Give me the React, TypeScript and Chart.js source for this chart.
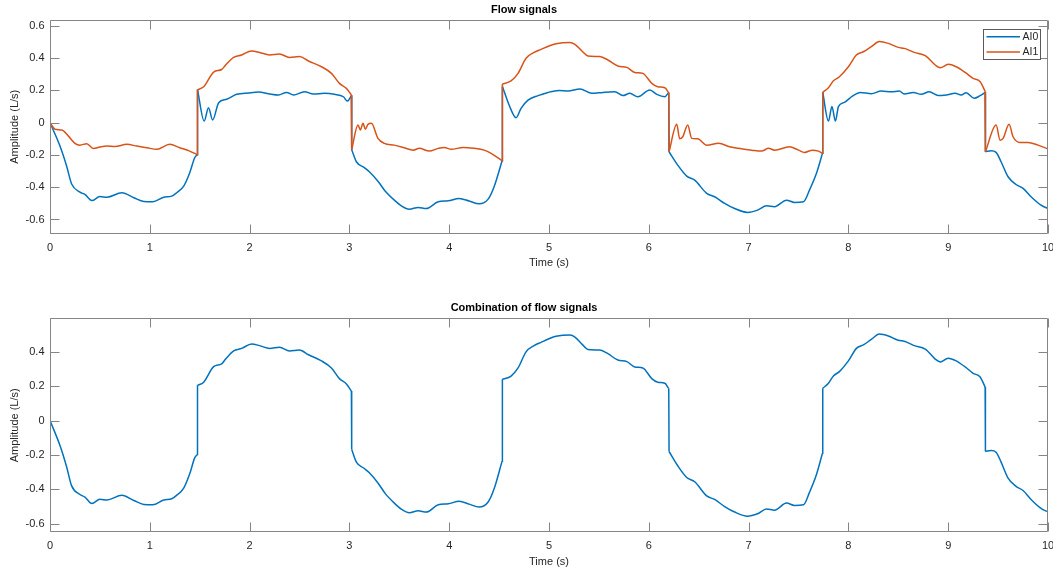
import React, { useEffect, useRef } from "react";
import { Chart, registerables } from "chart.js";

Chart.register(...registerables);

// ---------------- data ----------------
const AI0_TIME = [
  0, 0.1, 0.167, 0.217, 0.3, 0.35, 0.42, 0.5, 0.57, 0.72,
  0.84, 0.94, 1.03, 1.14, 1.22, 1.27, 1.34, 1.4, 1.45, 1.475,
  1.478, 1.545, 1.588, 1.63, 1.69, 1.77, 1.87, 1.99, 2.09, 2.19,
  2.29, 2.37, 2.44, 2.55, 2.64, 2.75, 2.85, 2.94, 2.98, 3.02,
  3.023, 3.07, 3.15, 3.2, 3.29, 3.36, 3.45, 3.52, 3.6, 3.69,
  3.77, 3.89, 3.99, 4.1, 4.2, 4.3, 4.39, 4.45, 4.53, 4.533,
  4.6, 4.67, 4.72, 4.79, 4.89, 4.99, 5.1, 5.19, 5.31, 5.43,
  5.54, 5.66, 5.74, 5.81, 5.89, 6.01, 6.08, 6.16, 6.2, 6.203,
  6.29, 6.38, 6.46, 6.58, 6.66, 6.76, 6.86, 6.99, 7.09, 7.18,
  7.26, 7.38, 7.46, 7.55, 7.61, 7.68, 7.74, 7.743, 7.8, 7.835,
  7.87, 7.9, 7.96, 8.04, 8.12, 8.23, 8.33, 8.43, 8.51, 8.56,
  8.65, 8.73, 8.81, 8.9, 8.98, 9.07, 9.13, 9.18, 9.26, 9.32,
  9.37, 9.373, 9.43, 9.48, 9.53, 9.6, 9.68, 9.75, 9.83, 9.93,
  10,
];
const AI0_VALUES = [
  0, -0.145, -0.27, -0.38, -0.43, -0.445, -0.483, -0.458, -0.462, -0.435,
  -0.465, -0.488, -0.49, -0.462, -0.455, -0.434, -0.393, -0.31, -0.217, -0.198,
  0.205, 0.01, 0.093, 0.017, 0.124, 0.145, 0.176, 0.185, 0.19, 0.18,
  0.172, 0.188, 0.172, 0.192, 0.178, 0.182, 0.176, 0.161, 0.134, 0.168,
  -0.168, -0.242, -0.279, -0.304, -0.366, -0.425, -0.48, -0.515, -0.536, -0.525,
  -0.532, -0.49, -0.484, -0.47, -0.486, -0.503, -0.474, -0.397, -0.236, 0.225,
  0.11, 0.031, 0.089, 0.14, 0.168, 0.188, 0.2, 0.196, 0.209, 0.182,
  0.188, 0.192, 0.168, 0.182, 0.161, 0.203, 0.176, 0.161, 0.188, -0.18,
  -0.263, -0.331, -0.356, -0.438, -0.459, -0.5, -0.532, -0.556, -0.542, -0.515,
  -0.521, -0.48, -0.494, -0.49, -0.418, -0.314, -0.19, 0.188, 0.01, 0.1,
  0.01, 0.1, 0.126, 0.165, 0.188, 0.18, 0.196, 0.192, 0.196, 0.178,
  0.188, 0.176, 0.192, 0.168, 0.172, 0.182, 0.172, 0.186, 0.151, 0.168,
  0.188, -0.18, -0.174, -0.184, -0.242, -0.335, -0.383, -0.407, -0.459, -0.511,
  -0.532,
];

const AI1_TIME = [
  0, 0.05, 0.118, 0.185, 0.25, 0.3, 0.368, 0.434, 0.5, 0.57,
  0.65, 0.77, 0.87, 0.97, 1.07, 1.2, 1.3, 1.4, 1.475, 1.478,
  1.54, 1.64, 1.72, 1.76, 1.84, 1.92, 2.02, 2.1, 2.2, 2.3,
  2.4, 2.5, 2.59, 2.72, 2.82, 2.9, 2.97, 3.02, 3.023, 3.086,
  3.11, 3.136, 3.16, 3.186, 3.22, 3.286, 3.35, 3.45, 3.55, 3.64,
  3.7, 3.8, 3.89, 3.95, 4.02, 4.14, 4.25, 4.35, 4.42, 4.53,
  4.533, 4.62, 4.69, 4.77, 4.85, 4.92, 5.0, 5.07, 5.21, 5.26,
  5.33, 5.39, 5.51, 5.59, 5.69, 5.78, 5.86, 5.94, 6.03, 6.09,
  6.16, 6.2, 6.203, 6.28, 6.31, 6.34, 6.39, 6.43, 6.49, 6.58,
  6.7, 6.81, 6.89, 7.03, 7.13, 7.2, 7.26, 7.41, 7.5, 7.56,
  7.64, 7.7, 7.74, 7.743, 7.8, 7.85, 7.91, 8.0, 8.08, 8.15,
  8.23, 8.31, 8.4, 8.5, 8.56, 8.66, 8.77, 8.87, 8.92, 9.0,
  9.08, 9.17, 9.25, 9.32, 9.37, 9.373, 9.48, 9.52, 9.55, 9.61,
  9.65, 9.72, 9.8, 9.9, 10,
];
const AI1_VALUES = [
  0, -0.04, -0.045, -0.083, -0.128, -0.139, -0.13, -0.16, -0.151, -0.145,
  -0.148, -0.134, -0.145, -0.155, -0.165, -0.134, -0.155, -0.176, -0.198, 0.205,
  0.223, 0.314, 0.33, 0.358, 0.405, 0.42, 0.445, 0.436, 0.42, 0.426,
  0.405, 0.41, 0.383, 0.347, 0.306, 0.244, 0.213, 0.172, -0.168, -0.014,
  -0.045, -0.004, -0.04, -0.01, -0.004, -0.097, -0.128, -0.139, -0.155, -0.17,
  -0.159, -0.176, -0.159, -0.153, -0.165, -0.153, -0.159, -0.17, -0.19, -0.236,
  0.24, 0.259, 0.306, 0.4, 0.436, 0.455, 0.476, 0.49, 0.498, 0.486,
  0.445, 0.414, 0.41, 0.389, 0.352, 0.343, 0.312, 0.306, 0.244, 0.223,
  0.217, 0.186, -0.18, -0.01, -0.1, -0.087, -0.014, -0.097, -0.1, -0.139,
  -0.128, -0.149, -0.159, -0.17, -0.176, -0.159, -0.17, -0.149, -0.17, -0.184,
  -0.17, -0.176, -0.19, 0.188, 0.217, 0.26, 0.285, 0.347, 0.42, 0.44,
  0.472, 0.503, 0.492, 0.467, 0.461, 0.436, 0.416, 0.358, 0.341, 0.362,
  0.347, 0.312, 0.275, 0.254, 0.195, -0.18, -0.014, -0.108, -0.097, -0.01,
  -0.087, -0.122, -0.122, -0.139, -0.163,
];

const COMBO_TIME = [
  0, 0.1, 0.167, 0.217, 0.3, 0.35, 0.42, 0.5, 0.57, 0.72,
  0.84, 0.94, 1.03, 1.14, 1.22, 1.27, 1.34, 1.4, 1.45, 1.475,
  1.478, 1.54, 1.64, 1.72, 1.76, 1.84, 1.92, 2.02, 2.1, 2.2,
  2.3, 2.4, 2.5, 2.59, 2.72, 2.82, 2.9, 2.97, 3.02, 3.023,
  3.07, 3.15, 3.2, 3.29, 3.36, 3.45, 3.52, 3.6, 3.69, 3.77,
  3.89, 3.99, 4.1, 4.2, 4.3, 4.39, 4.45, 4.53, 4.533, 4.62,
  4.69, 4.77, 4.85, 4.92, 5.0, 5.07, 5.21, 5.26, 5.33, 5.39,
  5.51, 5.59, 5.69, 5.78, 5.86, 5.94, 6.03, 6.09, 6.16, 6.2,
  6.203, 6.29, 6.38, 6.46, 6.58, 6.66, 6.76, 6.86, 6.99, 7.09,
  7.18, 7.26, 7.38, 7.46, 7.55, 7.61, 7.68, 7.74, 7.743, 7.8,
  7.85, 7.91, 8.0, 8.08, 8.15, 8.23, 8.31, 8.4, 8.5, 8.56,
  8.66, 8.77, 8.87, 8.92, 9.0, 9.08, 9.17, 9.25, 9.32, 9.37,
  9.373, 9.43, 9.48, 9.53, 9.6, 9.68, 9.75, 9.83, 9.93, 10,
];
const COMBO_VALUES = [
  0, -0.145, -0.27, -0.38, -0.43, -0.445, -0.483, -0.458, -0.462, -0.435,
  -0.465, -0.488, -0.49, -0.462, -0.455, -0.434, -0.393, -0.31, -0.217, -0.198,
  0.205, 0.223, 0.314, 0.33, 0.358, 0.405, 0.42, 0.445, 0.436, 0.42,
  0.426, 0.405, 0.41, 0.383, 0.347, 0.306, 0.244, 0.213, 0.172, -0.168,
  -0.242, -0.279, -0.304, -0.366, -0.425, -0.48, -0.515, -0.536, -0.525, -0.532,
  -0.49, -0.484, -0.47, -0.486, -0.503, -0.474, -0.397, -0.236, 0.24, 0.259,
  0.306, 0.4, 0.436, 0.455, 0.476, 0.49, 0.498, 0.486, 0.445, 0.414,
  0.41, 0.389, 0.352, 0.343, 0.312, 0.306, 0.244, 0.223, 0.217, 0.186,
  -0.18, -0.263, -0.331, -0.356, -0.438, -0.459, -0.5, -0.532, -0.556, -0.542,
  -0.515, -0.521, -0.48, -0.494, -0.49, -0.418, -0.314, -0.19, 0.188, 0.217,
  0.26, 0.285, 0.347, 0.42, 0.44, 0.472, 0.503, 0.492, 0.467, 0.461,
  0.436, 0.416, 0.358, 0.341, 0.362, 0.347, 0.312, 0.275, 0.254, 0.195,
  -0.18, -0.174, -0.184, -0.242, -0.335, -0.383, -0.407, -0.459, -0.511, -0.532,
];

const SERIES_LABELS = ["AI0", "AI1"];
const TITLES = ["Flow signals", "Combination of flow signals"];
const X_LABEL = "Time (s)";
const Y_LABEL = "Amplitude (L/s)";
const X_RANGE = [0, 10];
const TOP_Y_RANGE = [-0.69, 0.64];
const BOTTOM_Y_RANGE = [-0.65, 0.595];

// ---------------- styling ----------------
const W = 1053;
const H = 286;
const FONT = "'Liberation Sans', Arial, Helvetica, sans-serif";
const TEXT = "#262626";
const AXIS = "#858585";
const BLUE = "#0072BD";
const ORANGE = "#D95319";
const TICK_LEN = 9;
const JUMP_DT = 0.01;

type P = { x: number; y: number | null };

// Smooth parts are broken at the near-vertical jumps (a gap point with y: null)
// so the monotone curve does not bend around them; the jumps are drawn straight.
function smoothPart(t: number[], v: number[]): P[] {
  const out: P[] = [];
  for (let i = 0; i < t.length; i++) {
    out.push({ x: t[i], y: v[i] });
    if (i + 1 < t.length && t[i + 1] - t[i] < JUMP_DT) {
      out.push({ x: (t[i] + t[i + 1]) / 2, y: null });
    }
  }
  return out;
}
function jumpPart(t: number[], v: number[]): P[] {
  const out: P[] = [];
  for (let i = 0; i + 1 < t.length; i++) {
    if (t[i + 1] - t[i] < JUMP_DT) {
      out.push({ x: t[i], y: v[i] }, { x: t[i + 1], y: v[i + 1] });
      out.push({ x: t[i + 1] + JUMP_DT / 2, y: null });
    }
  }
  return out;
}

const fmtY = (v: any) => {
  const r = Math.round(Number(v) * 10) / 10;
  return r === 0 ? "0" : String(r);
};

function axesPlugin(withLegend: boolean) {
  return {
    id: "matlabAxes",
    afterDraw(chart: any) {
      const { ctx, chartArea } = chart;
      const { left, right, top, bottom } = chartArea;
      const xs = chart.scales.x;
      const ys = chart.scales.y;
      const L = Math.round(left) + 0.5;
      const R = Math.round(right) - 0.5;
      const T = Math.round(top) + 0.5;
      const B = Math.round(bottom) - 0.5;
      ctx.save();
      ctx.strokeStyle = AXIS;
      ctx.lineWidth = 1;
      ctx.beginPath();
      ctx.rect(L, T, R - L, B - T);
      for (const tk of xs.ticks) {
        const px = Math.round(xs.getPixelForValue(tk.value)) + 0.5;
        ctx.moveTo(px, B);
        ctx.lineTo(px, B - TICK_LEN);
        ctx.moveTo(px, T);
        ctx.lineTo(px, T + TICK_LEN);
      }
      for (const tk of ys.ticks) {
        const py = Math.round(ys.getPixelForValue(tk.value)) + 0.5;
        ctx.moveTo(L, py);
        ctx.lineTo(L + TICK_LEN, py);
        ctx.moveTo(R, py);
        ctx.lineTo(R - TICK_LEN, py);
      }
      ctx.stroke();

      if (withLegend) {
        const items = chart.data.datasets.filter((d: any) => d.inLegend);
        const bw = 57;
        const bh = 30;
        const bx = Math.round(right - 8.5 - bw) + 0.5;
        const by = Math.round(top + 9) + 0.5;
        ctx.fillStyle = "#ffffff";
        ctx.fillRect(bx, by, bw, bh);
        ctx.strokeStyle = "#5a5a5a";
        ctx.strokeRect(bx, by, bw, bh);
        ctx.font = `10.5px ${FONT}`;
        ctx.textBaseline = "middle";
        ctx.textAlign = "left";
        items.forEach((ds: any, i: number) => {
          const cy = by + 7.3 + i * 15.3;
          ctx.strokeStyle = ds.borderColor;
          ctx.lineWidth = 1.5;
          ctx.beginPath();
          ctx.moveTo(bx + 3, cy);
          ctx.lineTo(bx + 36.5, cy);
          ctx.stroke();
          ctx.fillStyle = TEXT;
          ctx.fillText(ds.label, bx + 39, cy + 0.5);
        });
      }
      ctx.restore();
    },
  };
}

function makeConfig(opts: {
  datasets: any[];
  title: string;
  titlePad: { top: number; bottom: number };
  yRange: number[];
  xAxisHeight: number;
  xTickPad: number;
  xTitlePad: number;
  legend: boolean;
}): any {
  const font = { family: FONT, size: 11 };
  return {
    type: "line",
    data: { datasets: opts.datasets },
    options: {
      responsive: false,
      animation: false,
      devicePixelRatio: 1,
      events: [],
      spanGaps: false,
      layout: { padding: { left: 0, right: 5, top: 0, bottom: 0 } },
      plugins: {
        legend: { display: false },
        tooltip: { enabled: false },
        title: {
          display: true,
          text: opts.title,
          color: "#000000",
          font: { family: FONT, size: 11, weight: "bold" },
          padding: opts.titlePad,
        },
      },
      scales: {
        x: {
          type: "linear",
          min: X_RANGE[0],
          max: X_RANGE[1],
          grid: { display: false, drawTicks: false },
          border: { display: false },
          ticks: {
            stepSize: 1,
            padding: opts.xTickPad,
            color: TEXT,
            font,
            autoSkip: false,
            maxRotation: 0,
            callback: (v: any) => String(v),
          },
          title: {
            display: true,
            text: X_LABEL,
            color: TEXT,
            font,
            padding: { top: 0, bottom: opts.xTitlePad },
          },
          afterFit: (s: any) => {
            s.height = opts.xAxisHeight;
            s.paddingLeft = 0;
            s.paddingRight = 0;
          },
        },
        y: {
          type: "linear",
          min: opts.yRange[0],
          max: opts.yRange[1],
          grid: { display: false, drawTicks: false },
          border: { display: false },
          ticks: {
            stepSize: 0.2,
            includeBounds: false,
            padding: 5.5,
            color: TEXT,
            font,
            callback: fmtY,
          },
          title: {
            display: true,
            text: Y_LABEL,
            color: TEXT,
            font,
            padding: { top: 8.7, bottom: 0 },
          },
          afterFit: (s: any) => {
            s.width = 50;
            s.paddingTop = 0;
            s.paddingBottom = 0;
          },
        },
      },
    },
    plugins: [axesPlugin(opts.legend)],
  };
}

function seriesDatasets(label: string, color: string, t: number[], v: number[], order: number) {
  const base = {
    borderColor: color,
    backgroundColor: color,
    borderWidth: 1.5,
    pointRadius: 0,
    fill: false,
    spanGaps: false,
  };
  return [
    {
      ...base,
      label,
      inLegend: true,
      data: smoothPart(t, v),
      order: order + 1,
      cubicInterpolationMode: "monotone",
    },
    {
      ...base,
      label: label + " jumps",
      inLegend: false,
      data: jumpPart(t, v),
      order,
      tension: 0,
    },
  ];
}

export default function App() {
  const topRef = useRef<HTMLCanvasElement | null>(null);
  const botRef = useRef<HTMLCanvasElement | null>(null);

  useEffect(() => {
    const top = new Chart(
      topRef.current as HTMLCanvasElement,
      makeConfig({
        datasets: [
          ...seriesDatasets(SERIES_LABELS[0], BLUE, AI0_TIME, AI0_VALUES, 2),
          ...seriesDatasets(SERIES_LABELS[1], ORANGE, AI1_TIME, AI1_VALUES, 0),
        ],
        title: TITLES[0],
        titlePad: { top: 2.9, bottom: 3.4 },
        yRange: TOP_Y_RANGE,
        xAxisHeight: 52,
        xTickPad: 7.5,
        xTitlePad: 16.4,
        legend: true,
      })
    );
    const bottom = new Chart(
      botRef.current as HTMLCanvasElement,
      makeConfig({
        datasets: seriesDatasets("Combination", BLUE, COMBO_TIME, COMBO_VALUES, 0),
        title: TITLES[1],
        titlePad: { top: 15.4, bottom: 3.7 },
        yRange: BOTTOM_Y_RANGE,
        xAxisHeight: 39.7,
        xTickPad: 7,
        xTitlePad: 3.9,
        legend: false,
      })
    );
    return () => {
      top.destroy();
      bottom.destroy();
    };
  }, []);

  return (
    <div
      style={{
        position: "absolute",
        left: 0,
        top: 0,
        width: W,
        height: 2 * H,
        background: "#ffffff",
        overflow: "hidden",
      }}
    >
      <canvas ref={topRef} width={W} height={H} style={{ display: "block", width: W, height: H }} />
      <canvas ref={botRef} width={W} height={H} style={{ display: "block", width: W, height: H }} />
    </div>
  );
}
